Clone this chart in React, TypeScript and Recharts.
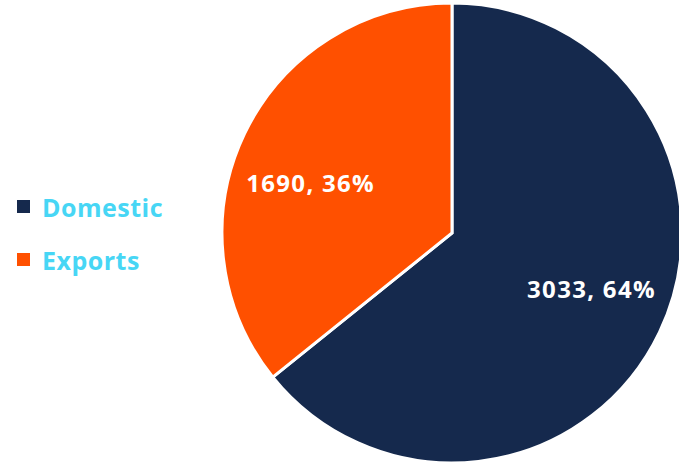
import { PieChart, Pie, Cell } from "recharts";

const categories = ["Domestic", "Exports"];
const values = [3033, 1690];
const colors = ["#15294D", "#FF5000"];
const legendText = "#47D6F5";
const font = "'Open Sans', Lato, sans-serif";

const total = values.reduce((a, b) => a + b, 0);
const data = categories.map((name, i) => ({ name, value: values[i] }));

const RAD = Math.PI / 180;

function renderLabel(props: any) {
  const { cx, cy, midAngle, index, value } = props;
  const r = 150;
  const ang = midAngle + (index === 0 ? 4 : 6);
  const x = cx + r * Math.cos(-ang * RAD);
  const y = cy + r * Math.sin(-ang * RAD);
  const pct = Math.round((value / total) * 100);
  return (
    <text
      x={x}
      y={y}
      fill="#ffffff"
      textAnchor="middle"
      dominantBaseline="central"
      fontFamily={font}
      fontWeight={700}
      fontSize={24}
      letterSpacing={1.3}
    >
      {`${value}, ${pct}%`}
    </text>
  );
}

function LegendBox() {
  return (
    <div
      style={{
        position: "absolute",
        left: 17,
        top: 180,
        fontFamily: font,
      }}
    >
      {data.map((d, i) => (
        <div
          key={d.name}
          style={{ display: "flex", alignItems: "center", height: 53 }}
        >
          <span
            style={{
              width: 13,
              height: 13,
              background: colors[i],
              display: "inline-block",
              marginRight: 12,
            }}
          />
          <span
            style={{
              color: legendText,
              fontWeight: 700,
              fontSize: 25,
              letterSpacing: 0.5,
            }}
          >
            {d.name}
          </span>
        </div>
      ))}
    </div>
  );
}

export default function App() {
  return (
    <div
      style={{
        position: "absolute",
        left: 0,
        top: 0,
        width: 679,
        height: 463,
        overflow: "hidden",
        background: "#ffffff",
      }}
    >
      <PieChart
        width={679}
        height={463}
        margin={{ top: 0, right: 0, bottom: 0, left: 0 }}
      >
        <Pie
          data={data}
          dataKey="value"
          nameKey="name"
          cx={452}
          cy={233}
          outerRadius={230}
          startAngle={90}
          endAngle={-270}
          stroke="#ffffff"
          strokeWidth={3}
          label={renderLabel}
          labelLine={false}
          isAnimationActive={false}
        >
          {data.map((d, i) => (
            <Cell key={d.name} fill={colors[i]} />
          ))}
        </Pie>
      </PieChart>
      <LegendBox />
    </div>
  );
}
